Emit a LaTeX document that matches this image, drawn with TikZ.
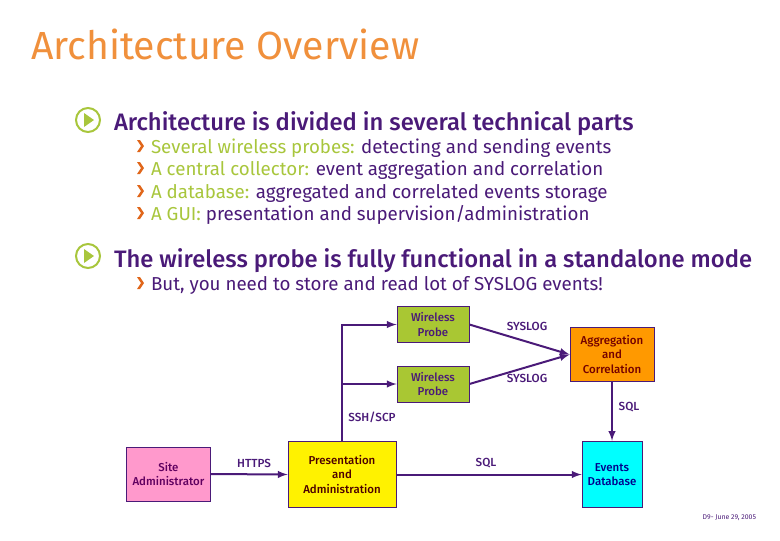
\documentclass[tikz,border=0pt]{standalone}
\usepackage{fontspec}
\setmainfont{Fira Sans}
\newfontfamily\mediumfont{Fira Sans Medium}
\definecolor{titleorange}{HTML}{F0903C}
\definecolor{darkpurple}{HTML}{4A1A78}
\definecolor{leafgreen}{HTML}{A8C63C}
\definecolor{chevron}{HTML}{E0661A}
\definecolor{probegreen}{HTML}{A9C733}
\definecolor{aggorange}{HTML}{FF9900}
\definecolor{sitepink}{HTML}{FF99CC}
\definecolor{dbcyan}{HTML}{00FFFF}
\tikzset{
  boxnode/.style={draw=darkpurple,line width=0.6pt,inner sep=0pt,align=center,font=\fontsize{8.6}{10.8}\selectfont\mediumfont},
  linklabel/.style={text=darkpurple,inner sep=0pt,font=\fontsize{8.8}{10}\selectfont\mediumfont},
  toptext/.style={anchor=base west,inner sep=0pt,text=darkpurple,font=\fontsize{17.85}{20}\selectfont\mediumfont},
  subtext/.style={anchor=base west,inner sep=0pt,text=darkpurple,font=\fontsize{14.05}{17}\selectfont},
}
\newcommand{\roundmark}[2]{%
  \draw[leafgreen,line width=1.5pt] (#1,#2) circle (12);
  \fill[leafgreen] (#1-4,#2-7) -- (#1+6,#2) -- (#1-4,#2+7) -- cycle;}
\newcommand{\chevronmark}[2]{%
  \fill[chevron] (#1-3,#2-6) -- (#1,#2-6) -- (#1+4,#2) -- (#1,#2+6) -- (#1-3,#2+6) -- (#1+1,#2) -- cycle;}
\begin{document}
\begin{tikzpicture}[x=0.75pt,y=-0.75pt,>=latex,line width=1.5pt]
  \useasboundingbox (0,0) rectangle (780,540);
  \node[anchor=base west,inner sep=0pt,text=titleorange,font=\fontsize{29.4}{32}\selectfont] (title) at (30,59) {Architecture Overview};
  % bullets
  \roundmark{88}{120}
  \node[toptext] (arch) at (113,130) {Architecture is divided in several technical parts};
  \chevronmark{140}{146}
  \node[subtext] (sub1) at (150,153) {\textcolor{leafgreen}{Several wireless probes:} detecting and sending events};
  \chevronmark{140}{168}
  \node[subtext] (sub2) at (150,175) {\textcolor{leafgreen}{A central collector:} event aggregation and correlation};
  \chevronmark{140}{191}
  \node[subtext] (sub3) at (150,198) {\textcolor{leafgreen}{A database:} aggregated and correlated events storage};
  \chevronmark{140}{213}
  \node[subtext] (sub4) at (150,220) {\textcolor{leafgreen}{A GUI:} presentation and supervision/administration};
  \roundmark{88}{256}
  \node[toptext] (probe) at (113,267) {The wireless probe is fully functional in a standalone mode};
  \chevronmark{140}{283}
  \node[subtext] (sub5) at (150,290) {But, you need to store and read lot of SYSLOG events!};
  % boxes
  \node[boxnode,fill=probegreen,text=darkpurple,minimum width=54pt,minimum height=26.5pt] (probeA) at (433,324.5) {Wireless\\Probe};
  \node[boxnode,fill=probegreen,text=darkpurple,minimum width=54pt,minimum height=27pt] (probeB) at (433,384) {Wireless\\Probe};
  \node[boxnode,fill=aggorange,text=red!45!black,minimum width=63pt,minimum height=41pt] (agg) at (612,354.5) {Aggregation\\and\\Correlation};
  \node[boxnode,fill=sitepink,text=violet!75!black,minimum width=63pt,minimum height=40.5pt] (site) at (168.5,474) {Site\\Administrator};
  \node[boxnode,fill=yellow,text=red!30!black,minimum width=81pt,minimum height=50pt] (pres) at (342,474.5) {Presentation\\and\\Administration};
  \node[boxnode,fill=dbcyan,text=blue!55!black,minimum width=45pt,minimum height=50pt] (db) at (612,474.5) {Events\\Database};
  % links
  \draw[->,darkpurple] (pres.north) |- (probeA.west);
  \draw[->,darkpurple] (pres.north) |- (probeB.west);
  \draw[->,darkpurple] (probeA.east) -- (agg.west);
  \draw[->,darkpurple] (probeB.east) -- (agg.west);
  \draw[->,darkpurple] (agg.south) -- (db.north);
  \draw[->,darkpurple] (site.east) -- (pres.west);
  \draw[->,darkpurple] (pres.east) -- (db.west);
  % labels
  \node[linklabel] (sysA) at (527,326) {SYSLOG};
  \node[linklabel] (sysB) at (527,378) {SYSLOG};
  \node[linklabel] (ssh) at (372,417) {SSH/SCP};
  \node[linklabel] (sqlA) at (629,407) {SQL};
  \node[linklabel] (https) at (254,463) {HTTPS};
  \node[linklabel] (sqlB) at (486,463) {SQL};
  \node[anchor=base east,inner sep=0pt,text=darkpurple,font=\fontsize{5.2}{6}\selectfont] (date) at (757,519) {D9- June 29, 2005};
\end{tikzpicture}
\end{document}
